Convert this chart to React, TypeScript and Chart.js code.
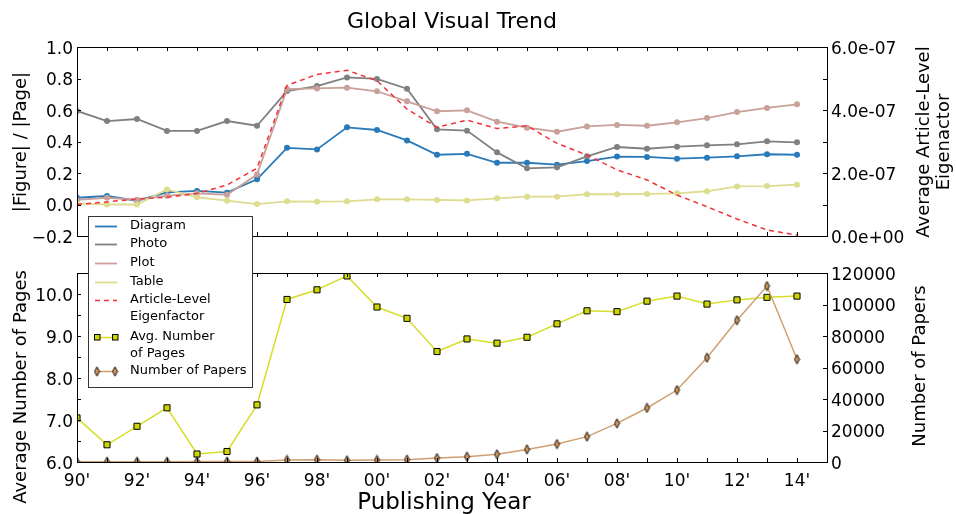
import React, { useEffect, useRef } from 'react';
import { Chart, registerables } from 'chart.js';
Chart.register(...registerables);

const years = [1990, 1991, 1992, 1993, 1994, 1995, 1996, 1997, 1998, 1999, 2000, 2001, 2002, 2003, 2004, 2005, 2006, 2007, 2008, 2009, 2010, 2011, 2012, 2013, 2014];
const xTickYears = [1990, 1992, 1994, 1996, 1998, 2000, 2002, 2004, 2006, 2008, 2010, 2012, 2014];
const xTickLabels = ["90'", "92'", "94'", "96'", "98'", "00'", "02'", "04'", "06'", "08'", "10'", "12'", "14'"];

const diagram = [0.043, 0.054, 0.024, 0.077, 0.086, 0.075, 0.16, 0.36, 0.35, 0.49, 0.473, 0.407, 0.316, 0.322, 0.265, 0.265, 0.253, 0.276, 0.304, 0.302, 0.291, 0.297, 0.306, 0.319, 0.316];
const photo = [0.594, 0.53, 0.543, 0.467, 0.467, 0.53, 0.5, 0.72, 0.752, 0.807, 0.797, 0.735, 0.477, 0.469, 0.331, 0.23, 0.236, 0.306, 0.365, 0.354, 0.367, 0.376, 0.382, 0.401, 0.395];
const plot = [0.029, 0.043, 0.03, 0.056, 0.071, 0.062, 0.19, 0.733, 0.737, 0.742, 0.719, 0.655, 0.592, 0.598, 0.526, 0.488, 0.462, 0.496, 0.505, 0.5, 0.522, 0.549, 0.587, 0.613, 0.636];
const table = [0.006, 0.0, 0.0, 0.096, 0.046, 0.024, 0.003, 0.02, 0.018, 0.02, 0.033, 0.033, 0.029, 0.026, 0.039, 0.05, 0.05, 0.065, 0.065, 0.067, 0.071, 0.084, 0.115, 0.117, 0.126];
const eigenfactor = [1.0e-7, 1.08e-7, 1.18e-7, 1.23e-7, 1.35e-7, 1.62e-7, 2.15e-7, 4.78e-7, 5.13e-7, 5.26e-7, 4.93e-7, 4.03e-7, 3.45e-7, 3.68e-7, 3.41e-7, 3.5e-7, 2.94e-7, 2.57e-7, 2.1e-7, 1.78e-7, 1.3e-7, 0.93e-7, 0.54e-7, 0.19e-7, 0.03e-7];
const avgPages = [7.05, 6.41, 6.85, 7.29, 6.19, 6.25, 7.36, 9.87, 10.1, 10.43, 9.69, 9.42, 8.63, 8.93, 8.83, 8.97, 9.29, 9.6, 9.58, 9.83, 9.95, 9.76, 9.86, 9.92, 9.95];
const numPapers = [150, 180, 200, 220, 250, 280, 300, 1300, 1500, 1100, 1300, 1500, 2500, 3400, 4900, 8000, 11400, 16100, 24500, 34300, 45700, 66200, 90000, 111700, 65200];

const eigenTickLabels = ['0.0e+00', '', '2.0e-07', '', '4.0e-07', '', '6.0e-07'];
const papersTickLabels = ['0', '20000', '40000', '60000', '80000', '100000', '120000'];

const FONT = '"DejaVu Sans", sans-serif';
const C = {
  diagram: '#2a7ab9',
  photo: '#808080',
  plot: '#c9a09a',
  table: '#dedc8e',
  eigen: '#f2323a',
  pages: '#d6de2a',
  pagesFill: '#cdd400',
  papers: '#cf9f72',
  papersFill: '#cf945c',
};

function thinDiamond(fill: string) {
  const c = document.createElement('canvas');
  c.width = 7; c.height = 11;
  const g = c.getContext('2d')!;
  g.beginPath();
  g.moveTo(3.5, 0.8); g.lineTo(6.0, 5.5); g.lineTo(3.5, 10.2); g.lineTo(1.0, 5.5);
  g.closePath();
  g.fillStyle = fill; g.fill();
  g.strokeStyle = '#000'; g.lineWidth = 0.9; g.stroke();
  return c;
}

const pts = (vals: number[]) => years.map((y, i) => ({ x: y, y: vals[i] }));

const frameTicks = {
  id: 'frameTicks',
  afterDatasetsDraw(chart: any, _a: any, opts: any) {
    const { ctx, chartArea: a } = chart;
    ctx.save();
    ctx.strokeStyle = '#000';
    ctx.lineWidth = 1;
    const L = 4;
    const xs = chart.scales.x;
    ctx.beginPath();
    for (let v = xs.min; v <= xs.max + 1e-9; v += opts.xStep) {
      const px = Math.round(xs.getPixelForValue(v)) + 0.5;
      ctx.moveTo(px, a.top); ctx.lineTo(px, a.top + L);
      ctx.moveTo(px, a.bottom); ctx.lineTo(px, a.bottom - L);
    }
    const ls = chart.scales[opts.left];
    for (let i = 0; ls.min + i * opts.leftStep <= ls.max + opts.leftStep * 1e-6; i++) {
      const py = Math.round(ls.getPixelForValue(ls.min + i * opts.leftStep)) + 0.5;
      ctx.moveTo(a.left, py); ctx.lineTo(a.left + L, py);
    }
    const rs = chart.scales[opts.right];
    for (let i = 0; rs.min + i * opts.rightStep <= rs.max + opts.rightStep * 1e-6; i++) {
      const py = Math.round(rs.getPixelForValue(rs.min + i * opts.rightStep)) + 0.5;
      ctx.moveTo(a.right, py); ctx.lineTo(a.right - L, py);
    }
    ctx.stroke();
    ctx.strokeRect(Math.round(a.left) + 0.5, Math.round(a.top) + 0.5, Math.round(a.right - a.left), Math.round(a.bottom - a.top));
    ctx.restore();
  },
};

function rotText(ctx: CanvasRenderingContext2D, text: string, x: number, y: number) {
  ctx.save();
  ctx.translate(x, y);
  ctx.rotate(-Math.PI / 2);
  ctx.textAlign = 'center';
  ctx.textBaseline = 'middle';
  ctx.fillText(text, 0, 0);
  ctx.restore();
}

const diamondImg = typeof document !== 'undefined' ? thinDiamond(C.papersFill) : null;

const textsAndLegend = {
  id: 'textsAndLegend',
  afterDraw(chart: any) {
    const ctx: CanvasRenderingContext2D = chart.ctx;
    ctx.save();
    ctx.fillStyle = '#000';
    ctx.textAlign = 'center';
    ctx.textBaseline = 'middle';
    ctx.font = `22px ${FONT}`;
    ctx.fillText('Global Visual Trend', 452, 22);
    ctx.font = `23px ${FONT}`;
    ctx.fillText('Publishing Year', 444, 503);
    ctx.font = `18px ${FONT}`;
    rotText(ctx, '|Figure| / |Page|', 21, 142);
    rotText(ctx, 'Average Number of Pages', 21, 387);
    rotText(ctx, 'Average Article-Level', 924, 142);
    rotText(ctx, 'Eigenactor', 944, 142);
    rotText(ctx, 'Number of Papers', 920, 366);

    // legend
    const bx = 88, by = 216, bw = 164, bh = 171;
    ctx.fillStyle = '#fff';
    ctx.fillRect(bx, by, bw, bh);
    ctx.strokeStyle = '#333';
    ctx.lineWidth = 1;
    ctx.strokeRect(bx + 0.5, by + 0.5, bw, bh);
    const entries = [
      { lines: ['Diagram'], y: 226, color: C.diagram, kind: 'line' },
      { lines: ['Photo'], y: 244, color: C.photo, kind: 'line' },
      { lines: ['Plot'], y: 263, color: C.plot, kind: 'line' },
      { lines: ['Table'], y: 282, color: C.table, kind: 'line' },
      { lines: ['Article-Level', 'Eigenfactor'], y: 300, color: C.eigen, kind: 'dash' },
      { lines: ['Avg. Number', 'of Pages'], y: 337, color: C.pages, kind: 'square' },
      { lines: ['Number of Papers'], y: 371, color: C.papers, kind: 'diamond' },
    ];
    ctx.font = `13px ${FONT}`;
    ctx.textAlign = 'left';
    for (const e of entries) {
      ctx.save();
      ctx.strokeStyle = e.color;
      ctx.lineWidth = e.kind === 'line' ? 1.8 : 1.5;
      if (e.kind === 'dash') ctx.setLineDash([5, 4]);
      ctx.beginPath();
      ctx.moveTo(95, e.y + 0.5); ctx.lineTo(117, e.y + 0.5);
      ctx.stroke();
      ctx.restore();
      if (e.kind === 'square') {
        for (const mx of [97, 115]) {
          ctx.fillStyle = C.pagesFill;
          ctx.fillRect(mx - 3, e.y - 3, 6, 6);
          ctx.strokeStyle = '#000';
          ctx.strokeRect(mx - 3 + 0.5, e.y - 3 + 0.5, 5.5, 5.5);
        }
      }
      if (e.kind === 'diamond' && diamondImg) {
        for (const mx of [97, 115]) ctx.drawImage(diamondImg, mx - 3.5, e.y - 5);
      }
      ctx.fillStyle = '#000';
      e.lines.forEach((t, k) => ctx.fillText(t, 130, e.y + k * 17));
    }
    ctx.restore();
  },
};

const tickFont = { family: FONT, size: 17 };

export default function App() {
  const topRef = useRef<HTMLCanvasElement>(null);
  const botRef = useRef<HTMLCanvasElement>(null);

  useEffect(() => {
    const lineDs = (label: string, vals: number[], color: string, order: number) => ({
      label,
      data: pts(vals),
      yAxisID: 'y',
      borderColor: color,
      backgroundColor: color,
      pointBackgroundColor: color,
      pointBorderColor: color,
      borderWidth: 1.8,
      pointRadius: 3,
      pointBorderWidth: 0,
      order,
    });

    const top = new Chart(topRef.current!, {
      type: 'line',
      data: {
        datasets: [
          lineDs('Diagram', diagram, C.diagram, 4),
          lineDs('Photo', photo, C.photo, 3),
          lineDs('Plot', plot, C.plot, 2),
          lineDs('Table', table, C.table, 1),
          {
            label: 'Article-Level Eigenfactor',
            data: pts(eigenfactor),
            yAxisID: 'yE',
            borderColor: C.eigen,
            borderWidth: 1.5,
            borderDash: [5, 4],
            pointRadius: 0,
            order: 0,
          } as any,
        ],
      },
      options: {
        responsive: false,
        animation: false,
        events: [],
        layout: { padding: { top: 47, bottom: 278, left: 0, right: 0 } },
        plugins: { legend: { display: false }, tooltip: { enabled: false }, title: { display: false }, frameTicks: { xStep: 1, left: 'y', leftStep: 0.2, right: 'yE', rightStep: 1e-7 } } as any,
        scales: {
          x: {
            type: 'linear', min: 1990, max: 2015,
            grid: { display: false, drawTicks: false }, border: { display: false },
            ticks: { display: false },
            afterFit: (s: any) => { s.height = 0; },
          },
          y: {
            type: 'linear', position: 'left', min: -0.2, max: 1.0,
            grid: { display: false, drawTicks: false }, border: { display: false },
            ticks: {
              stepSize: 0.2, color: '#000', font: tickFont, padding: 4, labelOffset: 2.5,
              callback: (v: any) => { const n = Number(v); if (Math.abs(n) < 1e-9) return '0.0'; return (n < 0 ? '\u2212' : '') + Math.abs(n).toFixed(1); },
            },
            afterFit: (s: any) => { s.width = 77; },
          },
          yE: {
            type: 'linear', position: 'right', min: 0, max: 6e-7,
            grid: { display: false, drawTicks: false }, border: { display: false },
            ticks: {
              stepSize: 1e-7, color: '#000', font: tickFont, padding: 4, labelOffset: 2.5,
              callback: (_v: any, i: number) => eigenTickLabels[i] ?? '',
            },
            afterFit: (s: any) => { s.width = 129; },
          },
        } as any,
      },
      plugins: [frameTicks as any],
    });

    const bot = new Chart(botRef.current!, {
      type: 'line',
      data: {
        datasets: [
          {
            label: 'Number of Papers',
            data: pts(numPapers),
            yAxisID: 'yN',
            borderColor: C.papers,
            borderWidth: 1.5,
            pointStyle: diamondImg as any,
            pointRadius: 4,
            order: 0,
          } as any,
          {
            label: 'Avg. Number of Pages',
            data: pts(avgPages),
            yAxisID: 'yP',
            borderColor: C.pages,
            borderWidth: 1.5,
            pointStyle: 'rect',
            pointRadius: 4.3,
            pointBackgroundColor: C.pagesFill,
            pointBorderColor: '#000',
            pointBorderWidth: 1,
            order: 1,
          } as any,
        ],
      },
      options: {
        responsive: false,
        animation: false,
        events: [],
        layout: { padding: { top: 273, bottom: 0, left: 0, right: 0 } },
        plugins: { legend: { display: false }, tooltip: { enabled: false }, title: { display: false }, frameTicks: { xStep: 1, left: 'yP', leftStep: 0.5, right: 'yN', rightStep: 20000 } } as any,
        scales: {
          x: {
            type: 'linear', min: 1990, max: 2015,
            grid: { display: false, drawTicks: false }, border: { display: false },
            ticks: {
              stepSize: 1, autoSkip: false, maxRotation: 0, minRotation: 0, color: '#000', font: tickFont, padding: 9,
              callback: (v: any) => { const k = xTickYears.indexOf(Math.round(Number(v))); return k >= 0 ? xTickLabels[k] : ''; },
            },
            afterFit: (s: any) => { s.height = 52; },
          },
          yP: {
            type: 'linear', position: 'left', min: 6, max: 10.5,
            grid: { display: false, drawTicks: false }, border: { display: false },
            ticks: {
              stepSize: 0.5, color: '#000', font: tickFont, padding: 4, labelOffset: 2.5,
              callback: (v: any) => { const n = Number(v); return Math.abs(n - Math.round(n)) < 1e-6 && n < 10.4 ? n.toFixed(1) : ''; },
            },
            afterFit: (s: any) => { s.width = 77; },
          },
          yN: {
            type: 'linear', position: 'right', min: 0, max: 120000,
            grid: { display: false, drawTicks: false }, border: { display: false },
            ticks: {
              stepSize: 20000, color: '#000', font: tickFont, padding: 4, labelOffset: 2.5,
              callback: (_v: any, i: number) => papersTickLabels[i] ?? '',
            },
            afterFit: (s: any) => { s.width = 129; },
          },
        } as any,
      },
      plugins: [frameTicks as any, textsAndLegend as any],
    });

    return () => { top.destroy(); bot.destroy(); };
  }, []);

  return (
    <div style={{ position: 'absolute', left: 0, top: 0, width: 956, height: 514, background: '#fff', overflow: 'hidden' }}>
      <canvas ref={topRef} width={956} height={514} style={{ position: 'absolute', left: 0, top: 0 }} />
      <canvas ref={botRef} width={956} height={514} style={{ position: 'absolute', left: 0, top: 0 }} />
    </div>
  );
}
